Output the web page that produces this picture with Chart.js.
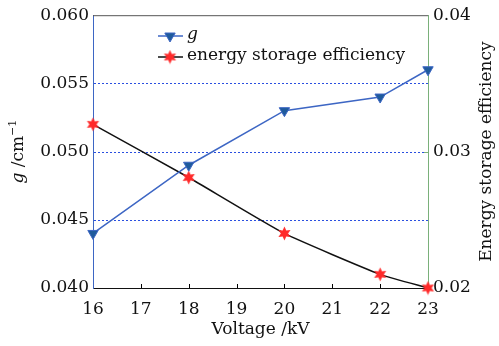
<!DOCTYPE html>
<html>
<head>
<meta charset="utf-8">
<script src="https://cdn.jsdelivr.net/npm/chart.js@4.4.1/dist/chart.umd.min.js"></script>
<style>
  html, body { margin: 0; padding: 0; background: #fff; }
  #wrap { width: 499px; height: 346px; }
</style>
</head>
<body>
<div id="wrap"><canvas id="grafico"></canvas></div>
<script>
// --- Dados ---
const tensao = [16, 18, 20, 22, 23];                    // Voltage /kV
const valoresG = [0.044, 0.049, 0.053, 0.054, 0.056];   // g /cm^-1 (eixo esquerdo)
const eficiencia = [0.032, 0.0281, 0.024, 0.021, 0.020]; // eixo direito
const linhasGrade = [0.045, 0.050, 0.055];              // linhas pontilhadas (eixo esquerdo)
const rotuloG = 'g';
const rotuloEficiencia = 'energy storage efficiency';
const tituloX = 'Voltage /kV';
const tituloDireito = 'Energy storage efficiency';

const FONTE = '"DejaVu Serif", serif';
const AZUL = '#3d66c4';
const VERMELHO = '#ff2a2a';

// Marcador em estrela de 6 pontas preenchida
function criarEstrela(cor) {
  const c = document.createElement('canvas');
  c.width = 15; c.height = 15;
  const g = c.getContext('2d');
  g.fillStyle = cor;
  g.beginPath();
  for (let i = 0; i < 12; i++) {
    const r = i % 2 === 0 ? 7 : 3.6;
    const ang = -Math.PI / 2 + i * Math.PI / 6;
    const px = 7.5 + r * Math.cos(ang), py = 7.5 + r * Math.sin(ang);
    if (i === 0) g.moveTo(px, py); else g.lineTo(px, py);
  }
  g.closePath();
  g.fill();
  return c;
}
const estrela = criarEstrela(VERMELHO);

// Grade pontilhada azul, antes das séries
const grade = {
  id: 'grade',
  beforeDatasetsDraw(chart) {
    const { ctx, chartArea: a, scales } = chart;
    ctx.save();
    ctx.strokeStyle = '#2a4fe0';
    ctx.lineWidth = 1;
    ctx.setLineDash([2, 2]);
    linhasGrade.forEach(v => {
      const y = Math.round(scales.y.getPixelForValue(v)) + 0.5;
      ctx.beginPath();
      ctx.moveTo(a.left + 1, y);
      ctx.lineTo(a.right, y);
      ctx.stroke();
    });
    ctx.restore();
  }
};

// Desenha moldura, marcas internas, legenda e títulos dos eixos
const extras = {
  id: 'extras',
  afterDraw(chart) {
    const { ctx, chartArea: a, scales } = chart;
    ctx.save();
    // linha de cima
    ctx.strokeStyle = '#555';
    ctx.lineWidth = 1;
    ctx.beginPath();
    ctx.moveTo(a.left, a.top + 0.5);
    ctx.lineTo(a.right, a.top + 0.5);
    ctx.stroke();
    // marcas internas no eixo x
    ctx.strokeStyle = '#000';
    for (let v = 17; v <= 22; v++) {
      const x = Math.round(scales.x.getPixelForValue(v)) + 0.5;
      ctx.beginPath();
      ctx.moveTo(x, a.bottom);
      ctx.lineTo(x, a.bottom - 4);
      ctx.stroke();
    }
    // marca interna no eixo direito
    ctx.strokeStyle = '#7ab07a';
    const y3 = Math.round(scales.y2.getPixelForValue(0.03)) + 0.5;
    ctx.beginPath();
    ctx.moveTo(a.right, y3);
    ctx.lineTo(a.right - 4, y3);
    ctx.stroke();

    // legenda
    const entradas = [
      { ds: chart.data.datasets[0], texto: rotuloG, italico: true, y: 36 },
      { ds: chart.data.datasets[1], texto: rotuloEficiencia, italico: false, y: 57 }
    ];
    entradas.forEach(e => {
      ctx.strokeStyle = e.ds.borderColor;
      ctx.lineWidth = 1.5;
      ctx.beginPath();
      ctx.moveTo(158, e.y);
      ctx.lineTo(183, e.y);
      ctx.stroke();
      ctx.fillStyle = e.ds.pointBackgroundColor;
      ctx.strokeStyle = e.ds.pointBorderColor;
      ctx.lineWidth = e.ds.pointBorderWidth;
      Chart.helpers.drawPoint(ctx, {
        pointStyle: e.ds.pointStyle,
        radius: e.ds.pointRadius,
        rotation: e.ds.pointRotation || 0,
        borderWidth: e.ds.pointBorderWidth
      }, 170, e.y);
      ctx.fillStyle = '#111';
      ctx.font = (e.italico ? 'italic ' : '') + '17px ' + FONTE;
      ctx.textAlign = 'left';
      ctx.textBaseline = 'middle';
      ctx.fillText(e.texto, 187, e.y - 1);
    });

    // título do eixo esquerdo: "g /cm⁻¹" com g em itálico
    ctx.fillStyle = '#111';
    ctx.save();
    ctx.translate(19, (a.top + a.bottom) / 2);
    ctx.rotate(-Math.PI / 2);
    ctx.textBaseline = 'middle';
    ctx.font = 'italic 17px ' + FONTE;
    const w1 = ctx.measureText('g').width;
    ctx.font = '17px ' + FONTE;
    const w2 = ctx.measureText(' /cm').width;
    ctx.font = '11px ' + FONTE;
    const w3 = ctx.measureText('\u22121').width;
    let x0 = -(w1 + w2 + w3) / 2;
    ctx.textAlign = 'left';
    ctx.font = 'italic 17px ' + FONTE;
    ctx.fillText('g', x0, 0);
    ctx.font = '17px ' + FONTE;
    ctx.fillText(' /cm', x0 + w1, 0);
    ctx.font = '11px ' + FONTE;
    ctx.fillText('\u22121', x0 + w1 + w2, -6);
    ctx.restore();

    // título do eixo direito
    ctx.save();
    ctx.translate(487, (a.top + a.bottom) / 2);
    ctx.rotate(-Math.PI / 2);
    ctx.textAlign = 'center';
    ctx.textBaseline = 'middle';
    ctx.font = '17px ' + FONTE;
    ctx.fillText(tituloDireito, 0, 0);
    ctx.restore();
    ctx.restore();
  }
};

new Chart(document.getElementById('grafico'), {
  type: 'line',
  data: {
    datasets: [
      {
        label: rotuloG,
        data: tensao.map((v, i) => ({ x: v, y: valoresG[i] })),
        yAxisID: 'y',
        borderColor: AZUL,
        borderWidth: 1.5,
        pointStyle: 'triangle',
        pointRotation: 180,
        pointRadius: 6,
        pointBackgroundColor: '#1f5b9c',
        pointBorderColor: AZUL,
        pointBorderWidth: 1,
        tension: 0
      },
      {
        label: rotuloEficiencia,
        data: tensao.map((v, i) => ({ x: v, y: eficiencia[i] })),
        yAxisID: 'y2',
        borderColor: '#111',
        borderWidth: 1.5,
        pointStyle: estrela,
        pointRadius: 7,
        pointBackgroundColor: VERMELHO,
        pointBorderColor: VERMELHO,
        pointBorderWidth: 1,
        tension: 0.15
      }
    ]
  },
  options: {
    responsive: true,
    maintainAspectRatio: false,
    animation: false,
    clip: false,
    layout: { padding: { top: 15, left: 0, right: 0, bottom: 0 } },
    plugins: { legend: { display: false }, tooltip: { enabled: false } },
    scales: {
      x: {
        type: 'linear',
        min: 16, max: 23,
        afterFit: s => { s.height = 58; },
        border: { color: '#111', width: 1 },
        grid: { display: false, drawTicks: false },
        ticks: { stepSize: 1, padding: 11, color: '#111', font: { family: FONTE, size: 17 } },
        title: { display: true, text: tituloX, color: '#111', padding: { top: 0, bottom: 6 }, font: { family: FONTE, size: 17 } }
      },
      y: {
        position: 'left',
        min: 0.04, max: 0.06,
        afterFit: s => { s.width = 93; },
        border: { color: AZUL, width: 1 },
        grid: { display: false, drawTicks: false },
        ticks: { stepSize: 0.005, padding: 4, color: '#111', font: { family: FONTE, size: 17 },
                 callback: v => v.toFixed(3) }
      },
      y2: {
        position: 'right',
        min: 0.02, max: 0.04,
        afterFit: s => { s.width = 71; },
        border: { color: '#7ab07a', width: 1 },
        grid: { display: false, drawTicks: false },
        ticks: { stepSize: 0.01, padding: 5, color: '#111', font: { family: FONTE, size: 17 },
                 callback: v => v.toFixed(2) }
      }
    }
  },
  plugins: [grade, extras]
});
</script>
</body>
</html>
